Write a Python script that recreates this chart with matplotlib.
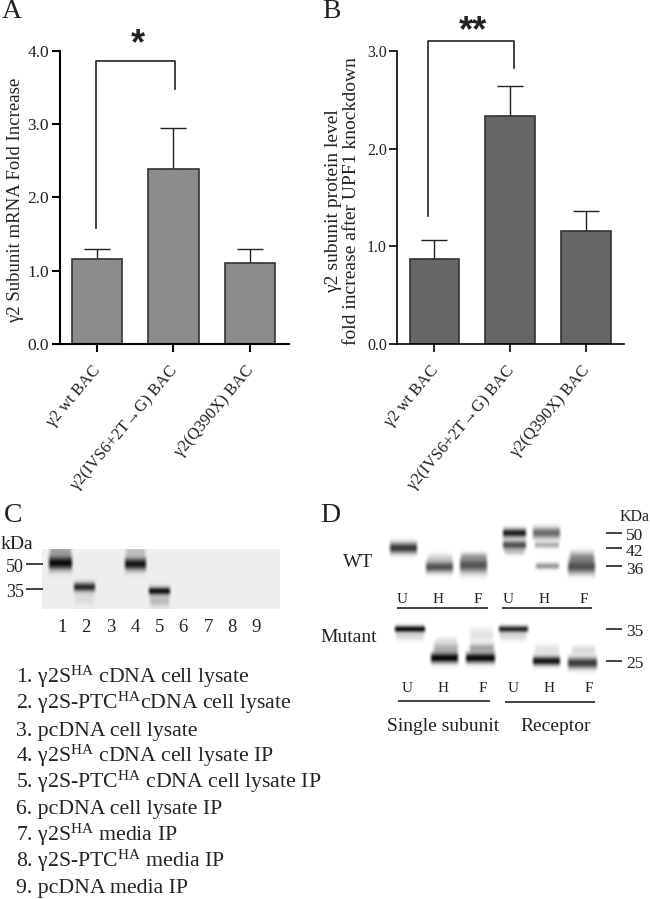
import numpy as np
import matplotlib
matplotlib.use('Agg')
import matplotlib.pyplot as plt
from matplotlib.transforms import ScaledTranslation

plt.rcParams['font.family'] = ['Liberation Serif', 'DejaVu Serif']
plt.rcParams['mathtext.fontset'] = 'custom'
plt.rcParams['mathtext.rm'] = 'Liberation Serif'
plt.rcParams['mathtext.default'] = 'rm'

W, H = 650, 899

# Panel A
labels_a = ['γ2 wt BAC', 'γ2(IVS6+2T→G) BAC', 'γ2(Q390X) BAC']
values_a = [1.16, 2.39, 1.10]
errors_a = [0.14, 0.56, 0.19]
yticks_a = [0.0, 1.0, 2.0, 3.0, 4.0]

# Panel B
labels_b = ['γ2 wt BAC', 'γ2(IVS6+2T→G) BAC', 'γ2(Q390X) BAC']
values_b = [0.87, 2.33, 1.16]
errors_b = [0.19, 0.31, 0.20]
yticks_b = [0.0, 1.0, 2.0, 3.0]

# Blot bands: x0, x1, y centre, half height, darkness (image pixels)
bands_c = [
    (49, 72, 563, 6, 1.0), (50, 71, 551, 5, 0.3),
    (74, 95, 587, 4, 0.85), (75, 94, 598, 6, 0.08),
    (125, 146, 564, 5.5, 0.95), (126, 145, 551, 5, 0.2),
    (149, 170, 591, 3.5, 0.95), (150, 169, 601, 5, 0.22),
]
bands_d = [
    (390, 417, 548, 5, 0.8),
    (426, 453, 567, 5, 0.7), (428, 452, 558, 4, 0.15),
    (460, 487, 565, 7, 0.7), (462, 486, 556, 3, 0.2),
    (503, 526, 533, 4, 0.9), (503, 526, 545, 4, 0.7), (505, 524, 552, 3, 0.2),
    (533, 560, 533, 5, 0.6), (535, 559, 545, 3, 0.3), (536, 559, 566, 3, 0.4),
    (568, 595, 567, 6, 0.7), (570, 594, 557, 5, 0.4),
    (395, 425, 629, 3, 0.95), (396, 424, 636, 4, 0.15),
    (431, 458, 658, 4.5, 1.0), (434, 458, 648, 5, 0.3), (436, 456, 640, 3, 0.08),
    (466, 495, 658, 4.5, 1.0), (470, 494, 648, 4, 0.35), (470, 493, 635, 6, 0.12),
    (499, 528, 629, 3, 0.85), (500, 526, 636, 4, 0.15),
    (533, 560, 661, 4, 0.95), (535, 559, 650, 5, 0.12),
    (568, 597, 663, 5, 0.8), (572, 595, 650, 4, 0.15),
]

list_c = [
    '1. γ2S$^{HA}$ cDNA cell lysate',
    '2. γ2S-PTC$^{HA}$cDNA cell lysate',
    '3. pcDNA cell lysate',
    '4. γ2S$^{HA}$ cDNA cell lysate IP',
    '5. γ2S-PTC$^{HA}$ cDNA cell lysate IP',
    '6. pcDNA cell lysate IP',
    '7. γ2S$^{HA}$ media IP',
    '8. γ2S-PTC$^{HA}$ media IP',
    '9. pcDNA media IP',
]
lanes_c = ['1', '2', '3', '4', '5', '6', '7', '8', '9']


def add_axes_px(fig, left, right, top, bottom):
    return fig.add_axes([left / W, 1 - bottom / H, (right - left) / W, (bottom - top) / H])


def bar_panel(ax, values, errors, labels, yticks, color, lw, fs, lab_fs):
    ax.bar(range(3), values, width=0.655, color=color, edgecolor='#333333', linewidth=1.2, zorder=2)
    ax.errorbar(range(3), values, yerr=[[0, 0, 0], errors], fmt='none', ecolor='#222222',
                elinewidth=1.0, capsize=9.5, capthick=1.0, zorder=1)
    for s in ['top', 'right']:
        ax.spines[s].set_visible(False)
    for s in ['left', 'bottom']:
        ax.spines[s].set_linewidth(lw)
    ax.set_xlim(-0.49, 2.51)
    ax.set_ylim(0, yticks[-1])
    ax.set_yticks(yticks)
    ax.set_yticklabels(['%.1f' % v for v in yticks], fontsize=fs, color='#222222')
    ax.set_xticks(range(3))
    ax.set_xticklabels(labels, fontsize=lab_fs, rotation=50, ha='right',
                       rotation_mode='anchor', color='#222222')
    ax.tick_params(axis='both', length=5.5, width=lw, pad=2)
    ax.tick_params(axis='x', pad=6)
    # labels sit a little left of the ticks in the original
    shift = ScaledTranslation(-5 / 100, -3 / 100, fig.dpi_scale_trans)
    for t in ax.get_xticklabels():
        t.set_transform(t.get_transform() + shift)


def blot_image(bands, x0, x1, y0, y1, bg):
    xs = np.arange(x0, x1) + 0.5
    ys = np.arange(y0, y1) + 0.5
    X, Y = np.meshgrid(xs, ys)
    img = np.zeros_like(X)
    for a, b, yc, hh, dark in bands:
        edge = (np.clip((X - a + 2) / 4, 0, 1) * np.clip((b + 2 - X) / 4, 0, 1))
        img += dark * edge * np.exp(-0.5 * ((Y - yc) / (hh * 0.8)) ** 2)
    return bg * (1 - np.clip(img, 0, 1)) + 0.05 * np.clip(img, 0, 1)


fig = plt.figure(figsize=(W / 100, H / 100), dpi=100)

ax_a = add_axes_px(fig, 59.5, 289, 51, 343.7)
bar_panel(ax_a, values_a, errors_a, labels_a, yticks_a, '#8c8c8c', 1.5, 12.5, 12)
ax_a.set_ylabel('γ2 Subunit mRNA Fold Increase', fontsize=13.5, color='#222222')
ax_a.yaxis.set_label_coords(-0.155, 0.489)
ax_a.plot([-0.01, -0.01, 1.02, 1.02], [1.58, 3.86, 3.86, 3.48], color='#222222', lw=1.2, clip_on=False)

ax_b = add_axes_px(fig, 397.3, 624, 51, 343.7)
bar_panel(ax_b, values_b, errors_b, labels_b, yticks_b, '#666666', 1.2, 11.5, 12)
ax_b.set_xlim(-0.49, 2.5)
ax_b.set_ylabel('γ2 subunit protein level\nfold increase after UPF1 knockdown', fontsize=14,
                color='#222222', linespacing=1.1)
ax_b.yaxis.set_label_coords(-0.165, 0.487)
ax_b.plot([-0.09, -0.09, 1.05, 1.05], [1.31, 3.10, 3.10, 2.83], color='#222222', lw=1.2, clip_on=False)

# Overlay in image pixels for the blots and free text
ov = fig.add_axes([0, 0, 1, 1], zorder=5)
ov.set_xlim(0, W)
ov.set_ylim(H, 0)
ov.axis('off')
ov.patch.set_alpha(0)

img_c = blot_image(bands_c, 42, 280, 549, 609, 0.93)
ov.imshow(img_c, extent=(42, 280, 609, 549), cmap='gray', vmin=0, vmax=1, interpolation='bilinear', aspect='auto')
img_d = blot_image(bands_d, 385, 602, 522, 675, 1.0)
ov.imshow(img_d, extent=(385, 602, 675, 522), cmap='gray', vmin=0, vmax=1, interpolation='bilinear', aspect='auto')
ov.set_xlim(0, W)
ov.set_ylim(H, 0)


def txt(x, y, s, fs=14, ha='left', **kw):
    ov.text(x, y, s, fontsize=fs, ha=ha, va='baseline', color='#222222', **kw)


def hline(x0, x1, y, lw=1.2):
    ov.plot([x0, x1], [y, y], color='#222222', lw=lw, solid_capstyle='butt')


txt(2, 18, 'A', 20)
txt(322, 18, 'B', 20)
txt(4, 522, 'C', 20)
txt(320, 522, 'D', 20)

txt(138, 54, '*', 26, ha='center', family='Liberation Sans', fontweight='bold')
txt(473, 41, '**', 26, ha='center', family='Liberation Sans', fontweight='bold')

# Panel C
txt(1, 549, 'kDa', 14)
txt(24, 572, '50', 13, ha='right')
txt(24, 597, '35', 13, ha='right')
hline(26, 43, 564)
hline(26, 43, 588.5)
for lab, x in zip(lanes_c, [62, 86, 111, 135, 160, 183, 208, 232, 256]):
    txt(x, 632, lab, 13.5, ha='center')
for s, y in zip(list_c, [683, 709, 736, 762, 788, 814, 841, 867, 893]):
    txt(16, y, s, 15.7)

# Panel D
txt(620, 521, 'KDa', 11.5)
for s, y_txt, y_line in [('50', 540, 533), ('42', 556, 548), ('36', 574, 566), ('35', 636, 629), ('25', 668, 661)]:
    txt(626, y_txt, s, 12.5)
    hline(606, 622, y_line)
txt(343, 567, 'WT', 14)
txt(320, 642, 'Mutant', 14)
for s, x in zip('UHFUHF', [402, 438, 478, 508, 544, 584]):
    txt(x, 603, s, 11, ha='center')
for s, x in zip('UHFUHF', [407, 443, 483, 513, 549, 589]):
    txt(x, 692, s, 11, ha='center')
hline(397, 488, 608)
hline(502, 592, 608)
hline(398, 490, 701)
hline(505, 595, 702)
txt(387, 731, 'Single subunit', 14)
txt(520, 731, 'Receptor', 14)

fig.savefig('out.png', dpi=100)
